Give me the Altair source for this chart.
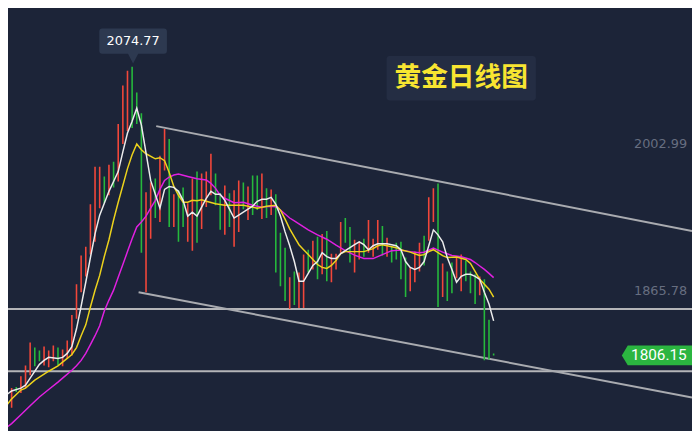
import altair as alt
import pandas as pd

BG = "#1c2438"
RED = "#f2473a"
GREEN = "#26b93c"

# ---------------- data ----------------
idx = list(range(107))
high = [1784.9, 1786.7, 1773.7, 1774.7, 1784.9, 1795.0, 1816.4, 1811.7, 1808.9, 1812.6,
        1808.9, 1813.6, 1811.7, 1809.9, 1818.2, 1842.3, 1871.0, 1897.9, 1906.2, 1946.0,
        1981.2, 1981.2, 1972.0, 1983.1, 1985.9, 2021.1, 2057.2, 2071.1, 2074.77, 2050.7,
        2031.3, 1957.2, 1966.4, 1970.1, 1991.4, 2016.4, 2007.2, 1955.3, 1959.0, 1961.8,
        1947.0, 1970.1, 1976.6, 1974.7, 1976.6, 1993.3, 1974.7, 1956.2, 1963.6, 1956.2,
        1959.0, 1968.3, 1966.4, 1962.7, 1972.9, 1972.9, 1974.7, 1960.9, 1959.9, 1955.3,
        1919.2, 1905.3, 1877.5, 1883.0, 1882.1, 1898.8, 1903.4, 1911.8, 1915.5, 1918.2,
        1921.0, 1899.7, 1899.7, 1929.4, 1933.1, 1924.7, 1912.7, 1910.8, 1913.6, 1931.2,
        1913.6, 1931.2, 1925.7, 1914.5, 1906.2, 1909.9, 1910.8, 1896.0, 1886.8, 1901.6,
        1909.9, 1916.4, 1952.5, 1960.9, 1965.5, 1890.5, 1883.0, 1891.4, 1896.9, 1898.8,
        1893.2, 1883.0, 1880.3, 1878.4, 1875.6, 1837.7, 1806.2]
low = [1762.6, 1757.1, 1755.2, 1770.0, 1769.1, 1773.7, 1785.8, 1794.1, 1798.8, 1795.0,
       1793.2, 1798.8, 1795.0, 1794.1, 1801.5, 1804.3, 1838.6, 1863.6, 1878.4, 1898.8,
       1910.8, 1942.3, 1947.0, 1954.4, 1961.8, 1967.3, 2002.5, 2014.6, 2017.4, 2021.1,
       1900.6, 1863.6, 1913.6, 1933.1, 1929.4, 1977.5, 1924.7, 1924.7, 1910.8, 1924.7,
       1910.8, 1902.5, 1909.9, 1922.9, 1943.3, 1954.4, 1945.1, 1922.0, 1917.3, 1924.7,
       1906.2, 1920.1, 1941.4, 1931.2, 1935.8, 1940.5, 1932.1, 1933.1, 1935.8, 1882.1,
       1869.2, 1855.3, 1847.8, 1851.6, 1848.8, 1848.8, 1882.1, 1884.9, 1875.6, 1880.3,
       1873.8, 1872.9, 1884.9, 1900.6, 1909.9, 1891.4, 1882.1, 1894.2, 1896.9, 1900.6,
       1896.9, 1903.4, 1897.9, 1896.9, 1891.4, 1894.2, 1875.6, 1859.0, 1864.5, 1872.9,
       1883.0, 1888.6, 1911.8, 1929.4, 1849.7, 1859.0, 1855.3, 1862.7, 1876.6, 1864.5,
       1873.8, 1862.7, 1852.5, 1860.8, 1799.7, 1800.6, 1804.3]
direction = list("rgrgrrrggr" "rrgrrrrrrr" "rrgrgrrrgg" "grrgrrgrgg" "rrgrrrggrg"
                 "rrgrggrgrg" "ggrgrrgrgr" "grrrggrrgr" "rrgrggggrr" "rgrrgrggrr" "gggrggg")

ma5_i = [0, 2, 4, 5, 6, 8, 9, 10, 12, 13, 14, 15, 16, 17, 18, 19, 20, 21, 22, 23, 24, 25, 26, 27,
         28, 29, 30, 31, 32, 33, 34, 35, 36, 37, 38, 39, 40, 41, 42, 43, 44, 45, 46, 47, 48, 49,
         50, 51, 52, 53, 54, 55, 56, 57, 58, 59, 60, 61, 62, 63, 64, 65, 66, 67, 68, 69, 70, 71,
         72, 73, 74, 75, 76, 77, 78, 79, 80, 81, 82, 83, 84, 85, 86, 87, 88, 89, 90, 91, 92, 93,
         94, 95, 96, 97, 98, 99, 100, 101, 102, 103, 104, 105, 106]
ma5_v = [1764.5, 1771.0, 1773.7, 1776.5, 1783.0, 1796.0, 1799.7, 1802.5, 1801.5, 1802.5, 1806.2,
         1812.6, 1829.3, 1850.6, 1872.9, 1896.0, 1918.2, 1935.8, 1947.0, 1958.1, 1967.3, 1976.6,
         1995.1, 2012.7, 2023.8, 2035.9, 2020.1, 1994.2, 1968.3, 1955.3, 1942.3, 1959.9, 1962.7,
         1961.8, 1958.1, 1949.7, 1934.9, 1938.6, 1934.9, 1943.3, 1951.6, 1958.1, 1955.3, 1955.3,
         1949.7, 1941.4, 1933.1, 1935.8, 1938.6, 1941.4, 1944.2, 1948.8, 1950.7, 1950.7, 1952.5,
         1946.0, 1934.9, 1920.1, 1907.1, 1892.3, 1873.8, 1873.8, 1881.2, 1888.6, 1892.3, 1900.6,
         1896.9, 1895.1, 1895.1, 1899.7, 1902.5, 1905.3, 1908.1, 1910.8, 1908.1, 1903.4, 1907.1,
         1909.0, 1909.0, 1909.0, 1908.1, 1907.1, 1903.4, 1892.3, 1886.8, 1884.9, 1886.8, 1892.3,
         1907.1, 1922.0, 1917.3, 1910.8, 1896.0, 1884.9, 1872.9, 1878.4, 1880.3, 1880.3, 1878.4,
         1875.6, 1863.6, 1852.5, 1836.7]

ma10_i = [0, 1, 2, 4, 5, 7, 8, 10, 12, 14, 15, 16, 17, 18, 19, 20, 21, 22, 23, 24, 25, 26, 27, 28,
          29, 30, 31, 33, 34, 35, 36, 37, 38, 39, 40, 41, 42, 43, 44, 46, 48, 50, 52, 54, 55, 57,
          59, 60, 61, 62, 63, 64, 65, 66, 67, 68, 69, 70, 71, 72, 73, 74, 76, 78, 80, 81, 82, 83,
          85, 86, 88, 90, 91, 92, 93, 94, 95, 96, 98, 100, 101, 102, 103, 104, 105, 106]
ma10_v = [1749.7, 1758.0, 1763.6, 1771.9, 1773.7, 1781.2, 1783.9, 1789.5, 1794.6, 1801.5, 1805.2,
          1811.7, 1822.8, 1833.0, 1849.7, 1865.4, 1879.3, 1897.0, 1912.7, 1931.2, 1947.9, 1963.6,
          1979.4, 1992.3, 2002.5, 1997.0, 1993.3, 1988.6, 1989.6, 1986.8, 1975.7, 1962.7, 1954.4,
          1947.9, 1947.9, 1949.7, 1949.3, 1950.2, 1948.8, 1946.5, 1945.1, 1945.1, 1945.1, 1943.3,
          1942.3, 1944.2, 1945.1, 1940.5, 1932.1, 1922.9, 1915.5, 1908.1, 1903.4, 1898.8, 1894.2,
          1889.5, 1886.8, 1885.8, 1888.6, 1893.2, 1899.7, 1901.6, 1901.6, 1901.6, 1904.4, 1907.1,
          1908.1, 1907.1, 1905.3, 1903.4, 1901.1, 1897.9, 1898.8, 1901.6, 1903.4, 1900.6, 1897.9,
          1896.0, 1896.5, 1894.2, 1890.5, 1883.0, 1875.6, 1871.0, 1866.4, 1859.0]

ma20_i = [0, 2, 4, 6, 8, 10, 12, 13, 15, 16, 17, 18, 19, 20, 21, 22, 23, 24, 25, 26, 27, 28, 29,
          30, 31, 32, 33, 34, 35, 36, 37, 38, 40, 42, 44, 45, 46, 47, 48, 50, 52, 54, 56, 58, 59,
          60, 61, 62, 63, 64, 66, 68, 70, 72, 74, 76, 78, 80, 82, 84, 86, 88, 90, 91, 93, 95, 97,
          99, 101, 102, 103, 104, 105, 106]
ma20_v = [1733.9, 1740.4, 1748.7, 1757.1, 1765.4, 1772.4, 1779.3, 1783.0, 1790.4, 1794.6, 1799.7,
          1806.2, 1814.5, 1822.8, 1832.1, 1846.0, 1856.2, 1865.5, 1877.5, 1889.5, 1901.6, 1913.6,
          1924.7, 1929.4, 1934.9, 1942.3, 1949.7, 1959.9, 1968.3, 1971.5, 1973.4, 1974.3, 1972.0,
          1969.8, 1968.7, 1965.5, 1960.9, 1954.4, 1951.6, 1947.4, 1947.9, 1945.1, 1943.3, 1944.2,
          1943.7, 1940.5, 1936.8, 1933.1, 1930.3, 1927.5, 1922.0, 1917.3, 1913.2, 1907.6, 1902.5,
          1898.3, 1895.1, 1895.1, 1898.8, 1902.5, 1903.0, 1901.6, 1900.6, 1901.1, 1905.0, 1901.1,
          1897.9, 1896.7, 1894.2, 1891.4, 1888.1, 1884.9, 1881.2, 1877.2]

# drawn trend channel (index, price) and horizontal levels
upper_i = [33.2, 148.8]
upper_v = [2019.2, 1921.0]
lower_i = [29.4, 148.8]
lower_v = [1863.6, 1764.9]
levels = [1847.8, 1789.5]

peak_price = 2074.77
peak_idx = 28
right_labels = [2002.99, 1865.78]
last_price = 1806.15
title_text = "黄金日线图"

# ---------------- chart ----------------
X_DOMAIN = [1.22, 148.8]
Y_DOMAIN = [1735.8, 2127.6]
xs = alt.Scale(domain=X_DOMAIN, nice=False, zero=False)
ys = alt.Scale(domain=Y_DOMAIN, nice=False, zero=False)

candles = pd.DataFrame({"i": idx, "high": high, "low": low, "dir": direction})

candle_layer = alt.Chart(candles).mark_rule(strokeWidth=1.6, clip=True).encode(
    x=alt.X("i:Q", scale=xs, axis=None),
    y=alt.Y("low:Q", scale=ys, axis=None),
    y2="high:Q",
    color=alt.Color("dir:N", scale=alt.Scale(domain=["g", "r"], range=[GREEN, RED]), legend=None),
)


def ma_line(ix, vals, color):
    df = pd.DataFrame({"i": ix, "v": vals})
    return alt.Chart(df).mark_line(color=color, strokeWidth=1.5, clip=True).encode(
        x=alt.X("i:Q", scale=xs, axis=None),
        y=alt.Y("v:Q", scale=ys, axis=None),
    )


ma20 = ma_line(ma20_i, ma20_v, "#e020e0")
ma10 = ma_line(ma10_i, ma10_v, "#ecd21c")
ma5 = ma_line(ma5_i, ma5_v, "#ececec")

trend_df = pd.DataFrame({
    "i": upper_i + lower_i,
    "v": upper_v + lower_v,
    "g": ["u", "u", "l", "l"],
})
trend = alt.Chart(trend_df).mark_line(color="#a9abb0", strokeWidth=2, clip=True).encode(
    x=alt.X("i:Q", scale=xs, axis=None),
    y=alt.Y("v:Q", scale=ys, axis=None),
    detail="g:N",
)

level_layer = alt.Chart(pd.DataFrame({"v": levels})).mark_rule(
    color="#b4b5b8", strokeWidth=2
).encode(y=alt.Y("v:Q", scale=ys, axis=None))

label_df = pd.DataFrame({"v": right_labels, "t": ["2002.99", "1865.78"]})
label_layer = alt.Chart(label_df).mark_text(
    align="right", baseline="middle", font="DejaVu Sans", fontSize=13, color="#676e80", yOffset=1
).encode(x=alt.value(687), y=alt.Y("v:Q", scale=ys, axis=None), text="t:N")

# callout above the peak
callout_path = ("M-0.91,-0.376 L0.91,-0.376 Q1,-0.376 1,-0.286 L1,0.286 Q1,0.376 0.91,0.376 "
                "L0.15,0.376 L0,0.66 L-0.15,0.376 L-0.91,0.376 Q-1,0.376 -1,0.286 L-1,-0.286 "
                "Q-1,-0.376 -0.91,-0.376 Z")
peak_df = pd.DataFrame({"i": [peak_idx], "v": [peak_price], "t": ["2074.77"]})
callout = alt.Chart(peak_df).mark_point(
    shape=callout_path, size=4680, filled=True, color="#2d3950", opacity=1, yOffset=-26, xOffset=1
).encode(x=alt.X("i:Q", scale=xs, axis=None), y=alt.Y("v:Q", scale=ys, axis=None))
callout_text = alt.Chart(peak_df).mark_text(
    font="DejaVu Sans", fontSize=13, color="#ffffff", yOffset=-26, xOffset=1, baseline="middle"
).encode(x=alt.X("i:Q", scale=xs, axis=None), y=alt.Y("v:Q", scale=ys, axis=None), text="t:N")

# current price tag
tag_path = "M-1,0 L-0.844,-0.26 L1,-0.26 L1,0.26 L-0.844,0.26 Z"
last_df = pd.DataFrame({"v": [last_price], "t": ["1806.15"]})
tag = alt.Chart(last_df).mark_point(
    shape=tag_path, size=5929, filled=True, color="#2bb540", opacity=1, yOffset=2
).encode(x=alt.value(659.5), y=alt.Y("v:Q", scale=ys, axis=None))
tag_text = alt.Chart(last_df).mark_text(
    font="Roboto", fontSize=15.5, color="#ffffff", baseline="middle", align="center", yOffset=2
).encode(x=alt.value(658.5), y=alt.Y("v:Q", scale=ys, axis=None), text="t:N")

# title box
title_df = pd.DataFrame({"t": [title_text]})
title_box = alt.Chart(title_df).mark_rect(color="#242d43", cornerRadius=3).encode(
    x=alt.value(383), x2=alt.value(534), y=alt.value(46), y2=alt.value(91)
)
title_txt = alt.Chart(title_df).mark_text(
    font="Noto Sans CJK SC", fontSize=27, fontWeight="bold", color="#f8e531", baseline="middle"
).encode(x=alt.value(458.5), y=alt.value(68.5), text="t:N")

chart = alt.layer(
    title_box, title_txt, level_layer, trend, candle_layer, ma20, ma10, ma5,
    label_layer, callout, callout_text, tag, tag_text,
).properties(
    width=692, height=423, background=BG, padding=0,
    autosize=alt.AutoSizeParams(type="none"),
).configure_view(stroke=None, fill=BG)

chart.save("out.html", embed_options={"renderer": "svg", "actions": False})
